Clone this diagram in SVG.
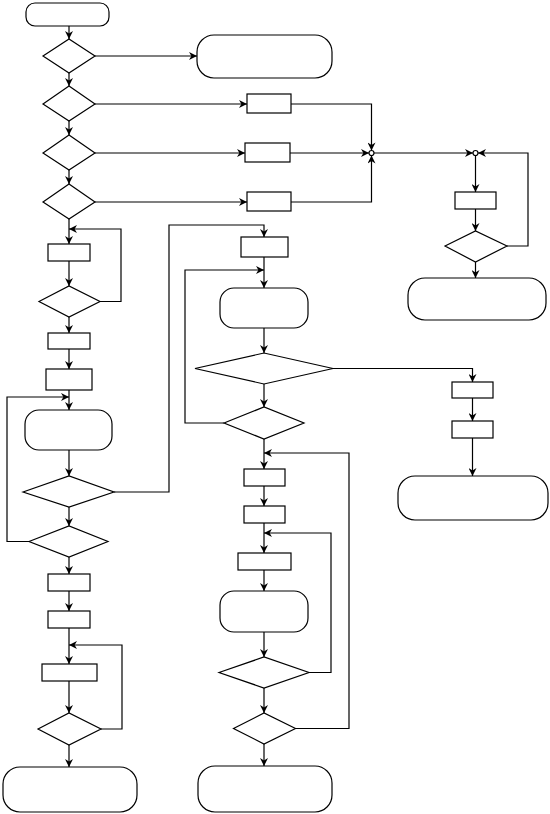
<svg xmlns="http://www.w3.org/2000/svg" width="550" height="814" viewBox="0 0 550 814">
<style>
.n{fill:#fff;stroke:#000;stroke-width:1.2}
.c path{fill:none;stroke:#000;stroke-width:1.2}
.c path.a{marker-end:url(#ah)}
</style>
<defs>
<marker id="ah" viewBox="0 0 10 10" refX="10" refY="5" markerWidth="9" markerHeight="8" orient="auto" markerUnits="userSpaceOnUse"><path d="M0,0 L10,5 L0,10 L3,5 z" fill="#000"/></marker>
</defs>
<rect width="550" height="814" fill="#fff"/>
<g class="c" id="connectors">
<path class="a" d="M69,26 V39"/>
<path class="a" d="M95,56 H197"/>
<path class="a" d="M69,73 V86"/>
<path class="a" d="M95,104 H247"/>
<path class="a" d="M291,104 H371.5 V150.5"/>
<path class="a" d="M69,121 V135"/>
<path class="a" d="M95,153 H245"/>
<path class="a" d="M290,153 H369"/>
<path class="a" d="M69,170 V184"/>
<path class="a" d="M95,202 H247"/>
<path class="a" d="M291,202 H371.5 V155.5"/>
<path class="a" d="M374,153 H473"/>
<path class="a" d="M475.5,155.5 V192"/>
<path class="a" d="M475.5,209 V231"/>
<path class="a" d="M475.5,262 V278"/>
<path class="a" d="M507,246 H528 V153 H478"/>
<path class="a" d="M69,219 V244"/>
<path class="a" d="M69,261 V286"/>
<path class="a" d="M100,301.5 H121 V229 H69"/>
<path class="a" d="M69,317 V333"/>
<path class="a" d="M69,349 V369"/>
<path class="a" d="M69,390 V410"/>
<path class="a" d="M69,450 V476"/>
<path class="a" d="M114,492 H169 V225 H264 V237"/>
<path class="a" d="M69,507 V526"/>
<path class="a" d="M29,541.5 H7 V397 H69"/>
<path class="a" d="M69,557 V574"/>
<path class="a" d="M69,591 V611"/>
<path class="a" d="M69,628 V664"/>
<path class="a" d="M101,729 H122 V645 H69"/>
<path class="a" d="M69,681 V713"/>
<path class="a" d="M69,745 V767"/>
<path class="a" d="M264,257 V288"/>
<path class="a" d="M224,423 H185 V270 H264"/>
<path class="a" d="M264,328 V353"/>
<path class="a" d="M333,368.5 H472.5 V382"/>
<path class="a" d="M472.5,398 V421"/>
<path class="a" d="M472.5,438 V476"/>
<path class="a" d="M264,384 V407"/>
<path class="a" d="M264,439 V469"/>
<path class="a" d="M295.5,728.5 H349 V453 H264"/>
<path class="a" d="M264,486 V506"/>
<path class="a" d="M264,523 V553"/>
<path class="a" d="M309,672.5 H331 V533 H264"/>
<path class="a" d="M264,570 V591"/>
<path class="a" d="M264,632 V657"/>
<path class="a" d="M264,688 V713"/>
<path class="a" d="M264,744 V766"/>
</g>
<g id="t1"><rect class="n" x="26" y="3" width="83" height="23" rx="9"/></g>
<g id="d1"><polygon class="n" points="43,56 69,39 95,56 69,73"/></g>
<g id="t2"><rect class="n" x="197" y="35" width="135" height="43" rx="17"/></g>
<g id="d2"><polygon class="n" points="43,104 69,86 95,104 69,121"/></g>
<g id="b1"><rect class="n" x="247" y="94" width="44" height="19"/></g>
<g id="d3"><polygon class="n" points="43,153 69,135 95,153 69,170"/></g>
<g id="b2"><rect class="n" x="245" y="143" width="45" height="19"/></g>
<g id="d4"><polygon class="n" points="43,202 69,184 95,202 69,219"/></g>
<g id="b3"><rect class="n" x="247" y="192" width="44" height="19"/></g>
<g id="c1"><circle class="n" cx="371.5" cy="153" r="2.5"/></g>
<g id="c2"><circle class="n" cx="475.5" cy="153" r="2.5"/></g>
<g id="b4"><rect class="n" x="455" y="192" width="41" height="17"/></g>
<g id="d5"><polygon class="n" points="445,246 475.5,231 507,246 475.5,262"/></g>
<g id="t3"><rect class="n" x="408" y="278" width="138" height="42" rx="17"/></g>
<g id="b5"><rect class="n" x="48" y="244" width="42" height="17"/></g>
<g id="d6"><polygon class="n" points="39,301.5 69,286 100,301.5 69,317"/></g>
<g id="b6"><rect class="n" x="48" y="333" width="42" height="16"/></g>
<g id="b7"><rect class="n" x="46" y="369" width="46" height="21"/></g>
<g id="t4"><rect class="n" x="25" y="410" width="87" height="40" rx="14"/></g>
<g id="d7"><polygon class="n" points="23,492 69,476 114,492 69,507"/></g>
<g id="d8"><polygon class="n" points="29,541.5 69,526 108,541.5 69,557"/></g>
<g id="b8"><rect class="n" x="48" y="574" width="42" height="17"/></g>
<g id="b9"><rect class="n" x="48" y="611" width="42" height="17"/></g>
<g id="b10"><rect class="n" x="42" y="664" width="55" height="17"/></g>
<g id="d9"><polygon class="n" points="38,729 69,713 101,729 69,745"/></g>
<g id="t5"><rect class="n" x="3" y="767" width="134" height="45" rx="17"/></g>
<g id="b11"><rect class="n" x="241" y="237" width="47" height="20"/></g>
<g id="t6"><rect class="n" x="220" y="288" width="88" height="40" rx="14"/></g>
<g id="d10"><polygon class="n" points="195,368.5 264,353 333,368.5 264,384"/></g>
<g id="d11"><polygon class="n" points="224,423 264,407 304,423 264,439"/></g>
<g id="b12"><rect class="n" x="244" y="469" width="41" height="17"/></g>
<g id="b13"><rect class="n" x="244" y="506" width="41" height="17"/></g>
<g id="b14"><rect class="n" x="238" y="553" width="53" height="17"/></g>
<g id="t7"><rect class="n" x="220" y="591" width="88" height="41" rx="14"/></g>
<g id="d12"><polygon class="n" points="219,672.5 264,657 309,672.5 264,688"/></g>
<g id="d13"><polygon class="n" points="233.5,728.5 264,713 295.5,728.5 264,744"/></g>
<g id="t8"><rect class="n" x="198" y="766" width="134" height="46" rx="17"/></g>
<g id="b15"><rect class="n" x="452" y="382" width="41" height="16"/></g>
<g id="b16"><rect class="n" x="452" y="421" width="41" height="17"/></g>
<g id="t9"><rect class="n" x="398" y="476" width="150" height="44" rx="17"/></g>
</svg>
